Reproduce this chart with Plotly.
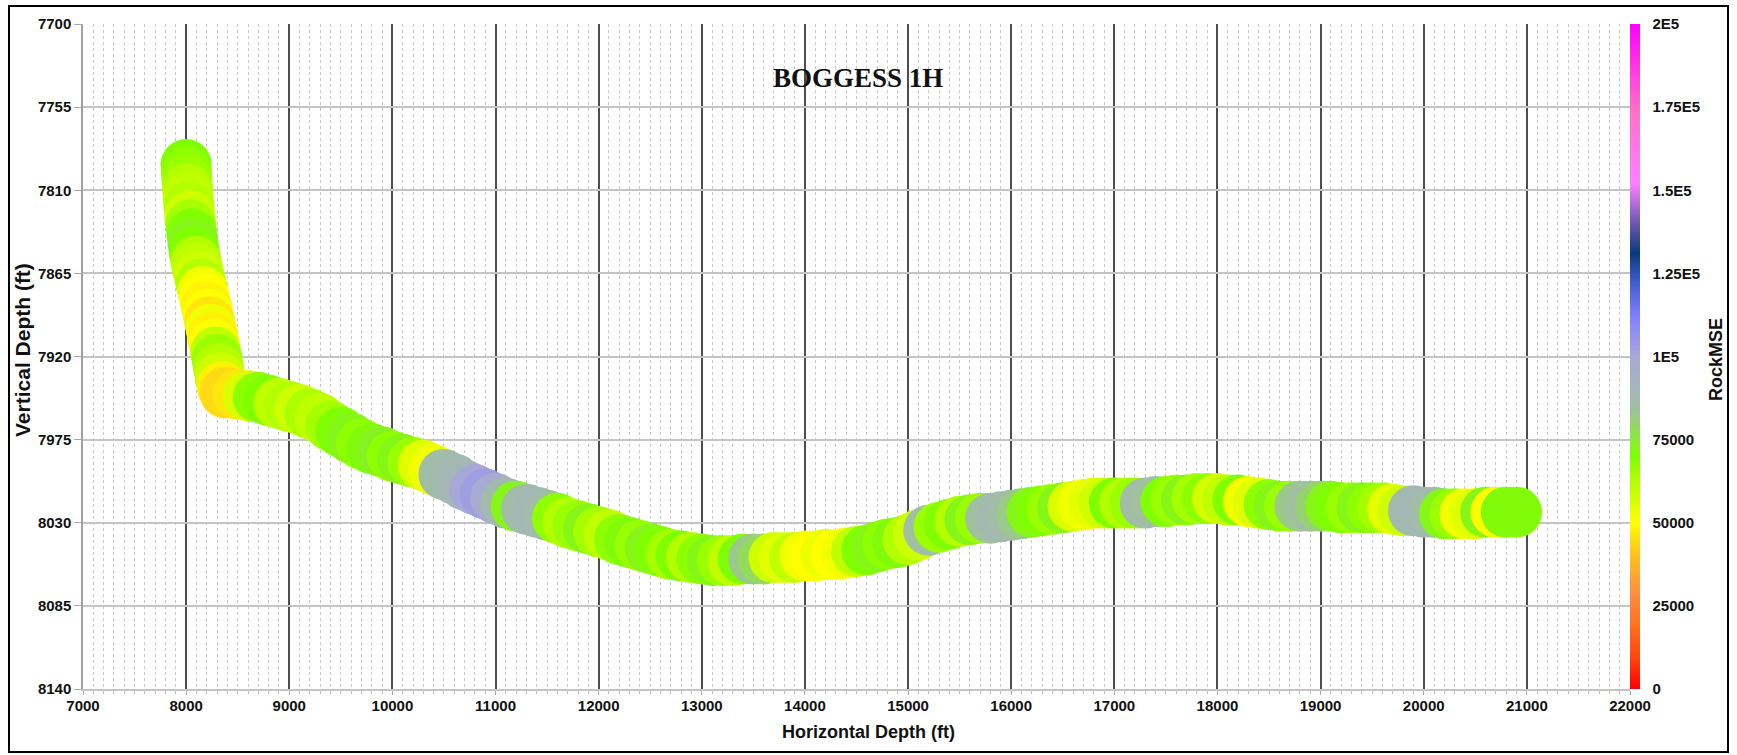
import plotly.graph_objects as go

# ---- data ----
horizontal_ft = [
    8000, 8003, 8008, 8014, 8020, 8028, 8036, 8045, 8055, 8067, 8080, 8095, 8110, 8128, 8145,
    8163, 8180, 8197, 8213, 8228, 8243, 8258, 8272, 8286, 8300, 8315, 8330, 8350, 8375,
    8400, 8500, 8600, 8700, 8800, 8900, 9000, 9100, 9200, 9300, 9400, 9500, 9600, 9700, 9800, 9900,
    10000, 10100, 10200, 10300, 10400, 10500, 10600, 10700, 10800, 10900,
    11000, 11100, 11200, 11300, 11400, 11500, 11600, 11700, 11800, 11900,
    12000, 12100, 12200, 12300, 12400, 12500, 12600, 12700, 12800, 12900,
    13000, 13100, 13200, 13300, 13400, 13500, 13600, 13700, 13800, 13900,
    14000, 14100, 14200, 14300, 14400, 14500, 14600, 14700, 14800, 14900,
    15000, 15100, 15200, 15300, 15400, 15500, 15600, 15700, 15800, 15900,
    16000, 16100, 16200, 16300, 16400, 16500, 16600, 16700, 16800, 16900,
    17000, 17100, 17200, 17300, 17400, 17500, 17600, 17700, 17800, 17900,
    18000, 18100, 18200, 18300, 18400, 18500, 18600, 18700, 18800, 18900,
    19000, 19100, 19200, 19300, 19400, 19500, 19600, 19700, 19800, 19900,
    20000, 20100, 20200, 20300, 20400, 20500, 20600, 20700, 20800, 20900,
]

vertical_ft = [
    7793, 7798, 7803, 7809, 7815, 7821, 7827, 7833, 7839, 7845, 7851, 7857, 7862, 7867, 7872,
    7877, 7882, 7887, 7892, 7897, 7902, 7907, 7912, 7917, 7922, 7928, 7934, 7940, 7944,
    7944, 7945, 7946, 7947, 7949, 7951, 7953, 7955, 7958, 7961, 7966, 7970, 7974, 7978, 7981, 7983,
    7986, 7988, 7990, 7992, 7995, 7998, 8001, 8005, 8008, 8011,
    8014, 8017, 8019, 8021, 8023, 8025, 8027, 8030, 8032, 8034,
    8036, 8038, 8041, 8043, 8045, 8047, 8049, 8051, 8052, 8053,
    8054, 8055, 8055, 8055, 8054, 8054, 8054, 8053, 8053, 8053,
    8052, 8052, 8051, 8051, 8050, 8049, 8048, 8046, 8044, 8043,
    8041, 8038, 8035, 8033, 8031, 8029, 8028, 8027, 8027, 8026,
    8025, 8024, 8023, 8022, 8021, 8020, 8019, 8018, 8017, 8017,
    8017, 8017, 8017, 8017, 8016, 8016, 8015, 8015, 8014, 8014,
    8014, 8015, 8015, 8016, 8017, 8018, 8019, 8019, 8019, 8019,
    8019, 8019, 8020, 8020, 8020, 8020, 8020, 8021, 8022, 8022,
    8023, 8023, 8024, 8024, 8024, 8024, 8023, 8023, 8023, 8023,
]

rock_mse = [
    70000, 68000, 66000, 62000, 60000, 62000, 58000, 64000, 70000, 72000, 70000, 62000, 60000, 58000, 62000,
    52000, 50000, 48000, 50000, 46000, 52000, 48000, 50000, 60000, 66000, 62000, 58000, 48000, 45000,
    44000, 46000, 56000, 68000, 70000, 60000, 62000, 58000, 63000, 60000, 64000, 70000, 72000, 68000, 71000, 73000,
    68000, 72000, 66000, 55000, 52000, 86000, 88000, 90000, 100000, 103000,
    98000, 88000, 72000, 86000, 90000, 87000, 68000, 62000, 66000, 72000,
    64000, 60000, 68000, 71000, 66000, 72000, 70000, 64000, 70000, 62000,
    68000, 72000, 66000, 60000, 70000, 82000, 78000, 58000, 55000, 60000,
    52000, 50000, 53000, 50000, 52000, 60000, 70000, 72000, 68000, 71000,
    62000, 58000, 85000, 66000, 70000, 62000, 72000, 66000, 84000, 88000,
    86000, 82000, 72000, 70000, 66000, 72000, 56000, 52000, 54000, 58000,
    70000, 62000, 66000, 86000, 84000, 70000, 66000, 72000, 64000, 68000,
    57000, 60000, 70000, 52000, 55000, 68000, 72000, 66000, 82000, 84000,
    80000, 72000, 70000, 66000, 72000, 68000, 64000, 54000, 58000, 88000,
    90000, 86000, 72000, 66000, 52000, 55000, 72000, 51000, 71000, 71000,
]

y_ticks = [7700, 7755, 7810, 7865, 7920, 7975, 8030, 8085, 8140]
cbar_vals = [0, 25000, 50000, 75000, 100000, 125000, 150000, 175000, 200000]
cbar_text = ["0", "25000", "50000", "75000", "1E5", "1.25E5", "1.5E5", "1.75E5", "2E5"]

colorscale = [
    [0.0, "#ff0000"], [0.05, "#ff4a10"], [0.10, "#ff7420"], [0.14, "#ff8a40"],
    [0.20, "#ffc020"], [0.25, "#ffff00"], [0.30, "#c0ff00"], [0.35, "#80ff00"],
    [0.42, "#a0c0a0"], [0.50, "#a8a8d8"], [0.56, "#8080ff"], [0.61, "#4060d0"],
    [0.655, "#0a3a78"], [0.71, "#8060b8"], [0.76, "#ff80ff"], [0.87, "#ff70c8"],
    [1.0, "#ff00ff"],
]

W, H = 1737, 755
L, R, T, B = 83, 107, 24, 66
pw, ph = W - L - R, H - T - B


def px_x(p):
    return (p - L) / pw


def px_y(p):
    return (H - B - p) / ph


bold15 = dict(family="Liberation Sans", size=15, color="#111", weight="bold")

fig = go.Figure()
fig.add_trace(go.Scatter(
    x=horizontal_ft, y=vertical_ft, mode="markers",
    marker=dict(
        size=51, color=rock_mse, colorscale=colorscale, cmin=0, cmax=200000,
        opacity=1, line=dict(width=0),
        colorbar=dict(
            thickness=10, thicknessmode="pixels", len=1, lenmode="fraction",
            x=1.0, xanchor="left", xpad=0, y=0.5, yanchor="middle", ypad=0,
            outlinewidth=0, tickmode="array", tickvals=cbar_vals, ticktext=cbar_text,
            ticks="outside", ticklen=10, tickcolor="rgba(0,0,0,0)",
            tickfont=bold15,
        ),
    ),
    hoverinfo="skip", showlegend=False,
))

fig.update_xaxes(
    range=[7000, 22000], tickmode="linear", tick0=7000, dtick=1000, tickformat="d",
    showgrid=True, gridcolor="#4d4d4d", gridwidth=1.5,
    ticks="outside", ticklen=4, tickcolor="#aaaaaa", ticklabelstandoff=-2,
    tickfont=bold15,
    showline=True, linecolor="#c4c4c4", linewidth=1.5, zeroline=False,
    minor=dict(dtick=100, showgrid=True, gridcolor="#c8c8c8", gridwidth=1,
               griddash="dot", ticks="outside", ticklen=3, tickcolor="#bbbbbb"),
)
fig.update_yaxes(
    range=[8140, 7700], tickmode="array", tickvals=y_ticks,
    showgrid=True, gridcolor="#c4c4c4", gridwidth=1.5,
    ticks="outside", ticklen=7, tickcolor="#aaaaaa",
    tickfont=bold15,
    showline=True, linecolor="#a0a0a0", linewidth=1.5, zeroline=False,
)

fig.update_layout(
    width=W, height=H, margin=dict(l=L, r=R, t=T, b=B),
    paper_bgcolor="white", plot_bgcolor="white",
    annotations=[
        dict(text="<b>BOGGESS 1H</b>", x=px_x(858), y=px_y(78), xref="paper", yref="paper",
             showarrow=False, xanchor="center", yanchor="middle",
             font=dict(family="Liberation Serif", size=27, color="#111")),
        dict(text="<b>Horizontal Depth (ft)</b>", x=px_x(868), y=px_y(732), xref="paper", yref="paper",
             showarrow=False, xanchor="center", yanchor="middle",
             font=dict(family="Liberation Sans", size=18, color="#111")),
        dict(text="<b>Vertical Depth (ft)</b>", x=px_x(22), y=px_y(350), xref="paper", yref="paper",
             showarrow=False, xanchor="center", yanchor="middle", textangle=-90,
             font=dict(family="Liberation Sans", size=21, color="#111")),
        dict(text="<b>RockMSE</b>", x=px_x(1716), y=px_y(360), xref="paper", yref="paper",
             showarrow=False, xanchor="center", yanchor="middle", textangle=-90,
             font=dict(family="Liberation Sans", size=18, color="#111")),
    ],
    shapes=[
        dict(type="rect", xref="paper", yref="paper",
             x0=px_x(9), x1=px_x(1728), y0=px_y(752), y1=px_y(6),
             line=dict(color="black", width=2), fillcolor="rgba(0,0,0,0)", layer="above"),
    ],
)

fig.write_html("out.html", config={"displayModeBar": False},
               post_script="document.body.style.margin='0';document.body.style.overflow='hidden';")
